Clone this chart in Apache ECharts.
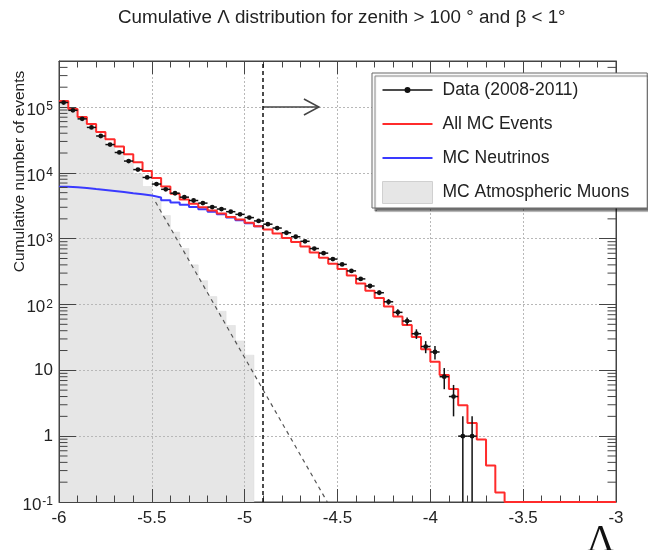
<!DOCTYPE html>
<html>
<head>
<meta charset="utf-8">
<script src="https://cdn.jsdelivr.net/npm/echarts@6/dist/echarts.min.js"></script>
<style>
  html, body { margin: 0; padding: 0; background: #fff; }
  #chart { width: 648px; height: 550px; }
</style>
</head>
<body>
<div id="chart"></div>
<script>
// Binning of the Lambda histograms: 60 bins of width 0.05 on [-6, -3]
const binStart = -6;
const binWidth = 0.05;

// Cumulative number of events with Lambda above each bin (data, 2008-2011)
const dataCounts = [117000, 89100, 66100, 49000, 36300, 26900, 20400, 15100, 11200, 8510,
  6760, 5620, 4900, 4270, 3800, 3470, 3020, 2820, 2570, 2340,
  2090, 1860, 1660, 1450, 1230, 1070, 912, 708, 603, 490,
  407, 324, 245, 191, 151, 110, 76, 56, 36, 23,
  19, 8, 4, 1, 1];

// Monte Carlo: all events (neutrinos + atmospheric muons)
const allMC = [123000, 93300, 70800, 55000, 41700, 32400, 25100, 19100, 14500, 10700,
  8320, 6200, 4800, 3950, 3400, 3000, 2690, 2410, 2140, 1950,
  1740, 1550, 1380, 1200, 1020, 891, 759, 617, 513, 417,
  347, 275, 209, 162, 126, 93, 66, 49, 32, 21,
  13.5, 8.5, 5.2, 2.95, 1.58, 0.89, 0.36, 0.14, 0, 0,
  0, 0, 0, 0, 0, 0, 0, 0, 0, 0];

// Monte Carlo: neutrinos only
const mcNeutrinos = [6170, 6030, 5890, 5690, 5500, 5310, 5130, 4900, 4730, 4520,
  4220, 3850, 3550, 3270, 3020, 2790, 2570, 2340, 2090, 1910,
  1720, 1550, 1380, 1200, 1020, 891, 759, 617, 513, 417,
  347, 275, 209, 162, 126, 93, 66, 49, 32, 21,
  13.5, 8.5, 5.2, 2.95, 1.58, 0.89, 0.36, 0.14, 0, 0,
  0, 0, 0, 0, 0, 0, 0, 0, 0, 0];

// Monte Carlo: atmospheric muons (no entries beyond the 21st bin)
const mcMuons = [117000, 87300, 64900, 49300, 36200, 27000, 20000, 14200, 9720, 6200,
  4100, 2240, 1260, 710, 400, 230, 132, 79, 48, 28, 17];

// Exponential extrapolation of the muon tail
const muonFit = [[-5.48, 3600], [-4.555, 0.1]];

// Selection cut on Lambda and the arrow pointing to the kept region
const lambdaCut = -4.9;
const cutArrow = [[-4.9, 1e5, -4.6, 1e5]];

// Axis ranges
const xMin = -6, xMax = -3;
const yMin = 0.1, yMax = 5e5;

const FONT = '"Liberation Sans", Arial, Helvetica, sans-serif';
const INK = '#222';
const FRAME = '#444';
const RED = '#ff2b2b';
const BLUE = '#3a3aff';

// Step-line points (lower bin edges, plus the closing edge); empty bins sit on the axis floor
function stepPoints(values) {
  const pts = values.map((v, i) => [binStart + i * binWidth, v > 0 ? v : yMin]);
  const last = values[values.length - 1];
  pts.push([binStart + values.length * binWidth, last > 0 ? last : yMin]);
  return pts;
}

// Beyond the muon bins the neutrino histogram lies under the all-MC one
const neutrinoShown = mcNeutrinos.slice(0, mcMuons.length + 1);

const dataPoints = dataCounts.map((n, i) => [binStart + (i + 0.5) * binWidth, n]);

// Log-axis minor tick positions: 2..9 times each decade
const minorTickValues = [];
for (let e = -1; e <= 5; e++) {
  for (let m = 2; m <= 9; m++) {
    const v = m * Math.pow(10, e);
    if (v < yMax) minorTickValues.push([xMin, v]);
  }
}

function yLabel(v) {
  const e = Math.round(Math.log10(v));
  if (Math.abs(Math.log10(v) - e) > 1e-6) return '';
  if (e === 0) return '{p|1}';
  if (e === 1) return '{p|10}';
  return '{b|10}{s|' + e + '}';
}

// Legend glyphs drawn in a 50x22 box (corner points keep the box size)
const BOX = 'M0,0 L0.01,0 Z M50,22 L49.99,22 Z ';
const lineIcon = 'path://' + BOX + 'M0,10 L50,10 L50,12 L0,12 Z';
const dataIcon = 'path://' + BOX + 'M0,10.2 L50,10.2 L50,11.8 L0,11.8 Z M22,11 A3,3 0 1,1 28,11 A3,3 0 1,1 22,11 Z';

const chart = echarts.init(document.getElementById('chart'), null, { renderer: 'canvas' });

const option = {
  animation: false,
  backgroundColor: '#fff',
  title: {
    text: 'Cumulative \u039b distribution for zenith > 100 \u00b0 and \u03b2 < 1\u00b0',
    left: 118,
    top: 8,
    padding: 0,
    textStyle: { fontFamily: FONT, fontSize: 18.8, fontWeight: 'normal', color: INK }
  },
  grid: {
    left: 59, right: 32, top: 61, bottom: 48,
    containLabel: false,
    outerBoundsMode: 'none',
    show: true, borderColor: FRAME, borderWidth: 1, backgroundColor: 'transparent'
  },
  legend: {
    orient: 'vertical',
    left: 372, top: 73,
    itemWidth: 50, itemHeight: 22, itemGap: 12,
    padding: [6, 18, 4, 10],
    backgroundColor: '#fff',
    borderColor: '#666', borderWidth: 1,
    shadowColor: 'rgba(0,0,0,0.55)', shadowOffsetX: 3, shadowOffsetY: 3, shadowBlur: 1,
    textStyle: { fontFamily: FONT, fontSize: 17.5, color: INK, padding: [0, 0, 0, 5] },
    data: [
      { name: 'Data (2008-2011)', icon: dataIcon, itemStyle: { color: '#111' } },
      { name: 'All MC Events', icon: lineIcon, itemStyle: { color: RED } },
      { name: 'MC Neutrinos', icon: lineIcon, itemStyle: { color: BLUE } },
      { name: 'MC Atmospheric Muons', icon: 'rect',
        itemStyle: { color: '#e6e6e6', borderColor: '#d0d0d0', borderWidth: 1 } }
    ]
  },
  xAxis: [{
    type: 'value', min: xMin, max: xMax, interval: 0.5, z: 1,
    name: '\u039b', nameLocation: 'end', nameGap: -29, nameMoveOverlap: false,
    nameTextStyle: { fontFamily: '"Liberation Serif", "Times New Roman", serif', fontSize: 38, color: '#111',
      verticalAlign: 'top', padding: [20, 0, 0, 0] },
    axisLine: { show: true, onZero: false, lineStyle: { color: FRAME, width: 1 } },
    axisTick: { show: true, inside: true, length: 13, lineStyle: { color: FRAME, width: 1 } },
    minorTick: { show: true, splitNumber: 5, length: 6.5, lineStyle: { color: FRAME, width: 1 } },
    axisLabel: { fontFamily: FONT, fontSize: 17, color: INK, margin: 8, formatter: v => String(v) },
    splitLine: { show: true, lineStyle: { color: '#b8b8b8', width: 1, type: [2, 2] } }
  }, {
    type: 'value', position: 'top', min: xMin, max: xMax, interval: 0.5, z: 1,
    axisLine: { show: true, onZero: false, lineStyle: { color: FRAME, width: 1 } },
    axisTick: { show: true, inside: true, length: 13, lineStyle: { color: FRAME, width: 1 } },
    minorTick: { show: true, splitNumber: 5, length: 6.5, lineStyle: { color: FRAME, width: 1 } },
    axisLabel: { show: false },
    splitLine: { show: false }
  }],
  yAxis: [{
    type: 'log', logBase: 10, min: yMin, max: yMax, z: 1,
    name: 'Cumulative number of events', nameLocation: 'middle', nameGap: 31, nameMoveOverlap: false,
    nameTextStyle: { fontFamily: FONT, fontSize: 15.5, color: INK, padding: [0, 0, 0, 220] },
    axisLine: { show: true, onZero: false, lineStyle: { color: FRAME, width: 1 } },
    axisTick: { show: true, inside: true, length: 17, lineStyle: { color: FRAME, width: 1 } },
    axisLabel: {
      margin: 6, formatter: yLabel,
      rich: {
        p: { fontFamily: FONT, fontSize: 17, color: INK },
        b: { fontFamily: FONT, fontSize: 17, color: INK, lineHeight: 24, padding: [6, 0, 0, 0] },
        s: { fontFamily: FONT, fontSize: 12, color: INK, lineHeight: 12, verticalAlign: 'top', padding: [6, 0, 0, 1] }
      }
    },
    splitLine: { show: true, lineStyle: { color: '#b8b8b8', width: 1, type: [2, 2] } }
  }, {
    type: 'log', logBase: 10, min: yMin, max: yMax, position: 'right', z: 1,
    axisLine: { show: true, onZero: false, lineStyle: { color: FRAME, width: 1 } },
    axisTick: { show: true, inside: true, length: 17, lineStyle: { color: FRAME, width: 1 } },
    axisLabel: { show: false },
    splitLine: { show: false }
  }],
  series: [
    {
      // Atmospheric muon histogram, filled down to the axis floor
      name: 'MC Atmospheric Muons',
      type: 'custom', z: 0, clip: true,
      itemStyle: { color: '#e6e6e6' },
      data: [[binStart, mcMuons[0]]],
      encode: { x: 0, y: 1 },
      renderItem: function (params, api) {
        const pts = [api.coord([binStart, yMin])];
        mcMuons.forEach((v, i) => {
          pts.push(api.coord([binStart + i * binWidth, v]));
          pts.push(api.coord([binStart + (i + 1) * binWidth, v]));
        });
        pts.push(api.coord([binStart + mcMuons.length * binWidth, yMin]));
        return { type: 'polygon', shape: { points: pts }, style: { fill: '#e6e6e6', stroke: '#dcdcdc', lineWidth: 0.5 } };
      }
    },
    {
      name: 'muon fit',
      type: 'line', z: 2,
      data: muonFit,
      symbol: 'none', showSymbol: false,
      lineStyle: { color: '#555', width: 1.2, type: [4, 4] },
      markLine: {
        silent: true, symbol: ['none', 'none'], label: { show: false },
        lineStyle: { color: '#111', width: 1.5, type: [4, 3] },
        data: [{ xAxis: lambdaCut }]
      }
    },
    {
      name: 'MC Neutrinos',
      type: 'line', z: 2, step: 'end',
      data: stepPoints(neutrinoShown),
      symbol: 'none', showSymbol: false,
      itemStyle: { color: BLUE },
      lineStyle: { color: BLUE, width: 2 }
    },
    {
      name: 'All MC Events',
      type: 'line', z: 2, step: 'end',
      data: stepPoints(allMC),
      symbol: 'none', showSymbol: false,
      itemStyle: { color: RED },
      lineStyle: { color: RED, width: 2 }
    },
    {
      // Data points with Poisson error bars and bin-width horizontal bars
      name: 'Data (2008-2011)',
      type: 'custom', z: 3, clip: true,
      itemStyle: { color: '#111' },
      data: dataPoints,
      encode: { x: 0, y: 1 },
      renderItem: function (params, api) {
        const x = api.value(0), n = api.value(1);
        const err = Math.sqrt(n);
        const lo = Math.max(n - err, yMin), hi = n + err;
        const c = api.coord([x, n]);
        const pLo = api.coord([x, lo]), pHi = api.coord([x, hi]);
        const pL = api.coord([x - binWidth / 2, n]), pR = api.coord([x + binWidth / 2, n]);
        const st = { stroke: '#111', lineWidth: 1.5 };
        return {
          type: 'group',
          children: [
            { type: 'line', shape: { x1: pLo[0], y1: pLo[1], x2: pHi[0], y2: pHi[1] }, style: st },
            { type: 'line', shape: { x1: pL[0], y1: pL[1], x2: pR[0], y2: pR[1] }, style: st },
            { type: 'circle', shape: { cx: c[0], cy: c[1], r: 2.4 }, style: { fill: '#111' } }
          ]
        };
      }
    },
    {
      // Arrow marking the region kept by the Lambda cut
      name: 'cut arrow',
      type: 'custom', z: 3,
      data: cutArrow,
      encode: { x: [0, 2], y: [1, 3] },
      renderItem: function (params, api) {
        const p0 = api.coord([api.value(0), api.value(1)]);
        const p1 = api.coord([api.value(2), api.value(3)]);
        const st = { stroke: '#444', lineWidth: 1.5, fill: null };
        return {
          type: 'group',
          children: [
            { type: 'line', shape: { x1: p0[0], y1: p0[1], x2: p1[0], y2: p1[1] }, style: st },
            { type: 'polyline', shape: { points: [[p1[0] - 15, p1[1] - 8], [p1[0], p1[1]], [p1[0] - 15, p1[1] + 8]] }, style: st }
          ]
        };
      }
    },
    {
      // Logarithmic minor ticks on the left and right frame
      name: 'log minor ticks',
      type: 'custom', z: 3, silent: true,
      data: minorTickValues,
      encode: { x: 0, y: 1 },
      renderItem: function (params, api) {
        const v = api.value(1);
        const l = api.coord([xMin, v]);
        const r = api.coord([xMax, v]);
        const st = { stroke: FRAME, lineWidth: 1 };
        return {
          type: 'group',
          children: [
            { type: 'line', shape: { x1: l[0], y1: l[1], x2: l[0] + 8.5, y2: l[1] }, style: st },
            { type: 'line', shape: { x1: r[0], y1: r[1], x2: r[0] - 8.5, y2: r[1] }, style: st }
          ]
        };
      }
    }
  ]
};

chart.setOption(option);
</script>
</body>
</html>
